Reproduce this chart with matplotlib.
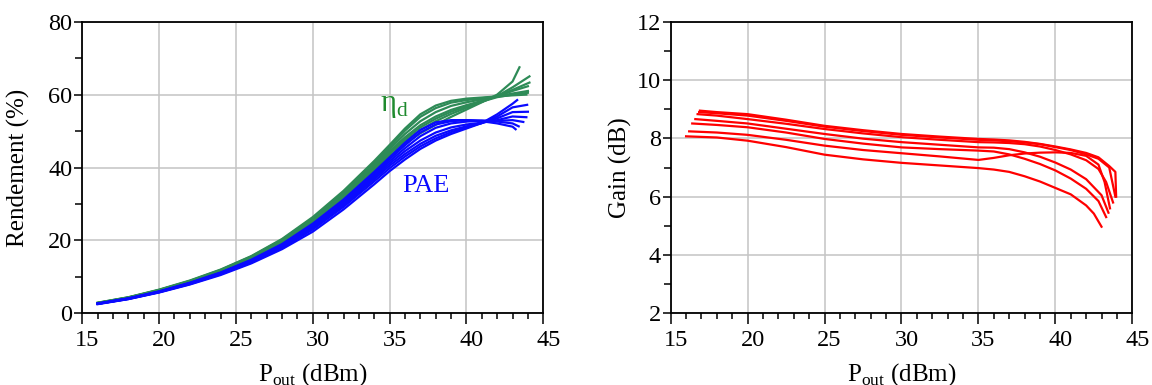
import matplotlib
matplotlib.use("Agg")
import matplotlib.pyplot as plt
import matplotlib.transforms as mtransforms
from matplotlib.ticker import MultipleLocator

plt.rcParams['font.family'] = ['Liberation Serif', 'DejaVu Serif']
plt.rcParams['mathtext.fontset'] = 'custom'
plt.rcParams['mathtext.rm'] = 'Liberation Serif'

# ---- rendement de drain (eta_d), une courbe par condition
eta_pout = [
    [16, 18, 20, 22, 24, 26, 28, 30, 32, 34, 35, 36, 37, 38, 39, 40, 41, 42, 43, 43.9],
    [16, 18, 20, 22, 24, 26, 28, 30, 32, 34, 35, 36, 37, 38, 39, 40, 41, 42, 43, 44.0],
    [16, 18, 20, 22, 24, 26, 28, 30, 32, 34, 35, 36, 37, 38, 39, 40, 41, 42, 43, 44.0],
    [16, 18, 20, 22, 24, 26, 28, 30, 32, 34, 35, 36, 37, 38, 39, 40, 41, 42, 43, 44.1],
    [16, 18, 20, 22, 24, 26, 28, 30, 32, 34, 35, 36, 37, 38, 39, 40, 41, 42, 43, 44.1],
    [16, 18, 20, 22, 24, 26, 28, 30, 32, 34, 35, 36, 37, 38, 39, 40, 41, 42, 43, 43.45],
    [16, 18, 20, 22, 24, 26, 28, 30, 32, 34, 35, 36, 37, 38, 39, 40, 41, 42, 43, 44.0],
]
eta_d = [
    [2.9, 4.4, 6.5, 9.0, 12.0, 15.7, 20.4, 26.4, 33.6, 41.8, 46.2, 50.7, 54.6, 57.0, 58.3, 58.9, 59.2, 59.5, 59.8, 60.0],
    [2.9, 4.4, 6.4, 8.9, 11.9, 15.6, 20.2, 26.1, 33.2, 41.3, 45.7, 50.1, 53.9, 56.3, 57.8, 58.5, 59.0, 59.5, 60.3, 61.0],
    [2.8, 4.3, 6.4, 8.8, 11.8, 15.4, 20.0, 25.9, 32.9, 40.8, 45.1, 49.2, 52.7, 55.2, 56.9, 57.9, 58.7, 59.5, 61.0, 62.3],
    [2.8, 4.3, 6.3, 8.7, 11.6, 15.2, 19.7, 25.5, 32.5, 40.3, 44.5, 48.3, 51.6, 54.0, 55.8, 57.1, 58.3, 59.5, 61.3, 63.3],
    [2.8, 4.2, 6.2, 8.6, 11.5, 15.0, 19.4, 25.1, 32.0, 39.7, 43.8, 47.3, 50.3, 52.7, 54.7, 56.4, 58.0, 59.6, 62.0, 65.0],
    [2.8, 4.2, 6.2, 8.5, 11.4, 14.9, 19.2, 24.9, 31.7, 39.2, 43.2, 46.5, 49.4, 51.7, 53.9, 55.9, 57.9, 60.0, 63.6, 67.5],
    [2.8, 4.3, 6.3, 8.7, 11.6, 15.1, 19.6, 25.3, 32.2, 40.0, 44.0, 47.8, 51.0, 53.4, 55.3, 56.8, 58.1, 59.3, 60.0, 60.5],
]

# ---- PAE
pae_pout = [
    [16, 18, 20, 22, 24, 26, 28, 30, 32, 34, 35, 36, 37, 38, 39, 40, 41, 42, 43, 43.2],
    [16, 18, 20, 22, 24, 26, 28, 30, 32, 34, 35, 36, 37, 38, 39, 40, 41, 42, 43, 43.4],
    [16, 18, 20, 22, 24, 26, 28, 30, 32, 34, 35, 36, 37, 38, 39, 40, 41, 42, 43, 43.7],
    [16, 18, 20, 22, 24, 26, 28, 30, 32, 34, 35, 36, 37, 38, 39, 40, 41, 42, 43, 43.9],
    [16, 18, 20, 22, 24, 26, 28, 30, 32, 34, 35, 36, 37, 38, 39, 40, 41, 42, 43, 44.0],
    [16, 18, 20, 22, 24, 26, 28, 30, 32, 34, 35, 36, 37, 38, 39, 40, 41, 42, 43, 43.95],
    [16, 18, 20, 22, 24, 26, 28, 30, 32, 34, 35, 36, 37, 38, 39, 40, 41, 42, 43, 43.3],
]
pae = [
    [2.7, 4.1, 6.0, 8.4, 11.2, 14.7, 19.0, 24.6, 31.2, 38.8, 42.8, 46.8, 50.3, 52.4, 53.0, 53.0, 52.7, 52.1, 51.2, 50.5],
    [2.7, 4.1, 6.0, 8.3, 11.1, 14.5, 18.8, 24.2, 30.8, 38.3, 42.3, 46.1, 49.6, 51.8, 52.7, 53.0, 52.9, 52.6, 52.1, 51.3],
    [2.6, 4.0, 5.9, 8.2, 11.0, 14.4, 18.6, 23.9, 30.4, 37.8, 41.7, 45.3, 48.6, 50.9, 52.1, 52.6, 52.8, 52.8, 53.0, 52.5],
    [2.6, 4.0, 5.9, 8.2, 10.9, 14.3, 18.4, 23.6, 30.0, 37.3, 41.1, 44.5, 47.4, 49.6, 51.0, 51.8, 52.3, 53.0, 54.0, 53.8],
    [2.6, 4.0, 5.8, 8.1, 10.8, 14.1, 18.2, 23.3, 29.6, 36.8, 40.5, 43.7, 46.5, 48.7, 50.2, 51.3, 52.2, 53.5, 55.2, 55.3],
    [2.6, 3.9, 5.8, 8.0, 10.7, 13.9, 18.0, 23.0, 29.2, 36.2, 39.8, 43.0, 45.8, 48.0, 49.7, 51.0, 52.2, 54.0, 56.5, 57.2],
    [2.5, 3.9, 5.7, 7.9, 10.5, 13.7, 17.6, 22.4, 28.5, 35.4, 39.0, 42.2, 45.1, 47.4, 49.2, 50.7, 52.2, 54.6, 57.5, 58.5],
]

# ---- gain
gain_pout = [
    [16.0, 18, 20, 22.5, 25, 27.5, 30, 32.5, 35, 36, 37, 38, 39, 40, 41, 42, 42.5, 43.0],
    [16.2, 18, 20, 22.5, 25, 27.5, 30, 32.5, 35, 36, 37, 38, 39, 40, 41, 42, 42.8, 43.2, 43.55],
    [16.4, 18, 20, 22.5, 25, 27.5, 30, 32.5, 35, 36, 37, 38, 39, 40, 41, 42, 42.8, 43.3],
    [16.6, 18, 20, 22.5, 25, 27.5, 30, 32.5, 35, 36, 37, 38, 39, 40, 41, 42, 43, 43.45],
    [16.75, 18, 20, 22.5, 25, 27.5, 30, 32.5, 35, 36, 37, 38, 39, 40, 41, 42, 42.8, 43.3, 43.75],
    [16.85, 18, 20, 22.5, 25, 27.5, 30, 32.5, 35, 36, 37, 38, 39, 40, 41, 42, 42.8, 43.5, 43.9],
    [16.9, 18, 20, 22.5, 25, 27.5, 30, 32.5, 35, 36, 37, 38, 39, 40, 41, 42, 42.8, 43.5, 43.9, 43.95],
]
gain = [
    [8.07, 8.03, 7.92, 7.70, 7.44, 7.28, 7.16, 7.07, 6.98, 6.93, 6.85, 6.70, 6.52, 6.30, 6.08, 5.70, 5.42, 4.97],
    [8.24, 8.20, 8.12, 7.95, 7.75, 7.60, 7.49, 7.38, 7.26, 7.33, 7.42, 7.48, 7.51, 7.52, 7.50, 7.40, 7.10, 6.50, 5.60],
    [8.51, 8.46, 8.38, 8.20, 7.98, 7.82, 7.69, 7.63, 7.58, 7.55, 7.45, 7.30, 7.12, 6.90, 6.62, 6.27, 5.85, 5.30],
    [8.66, 8.60, 8.51, 8.33, 8.15, 7.99, 7.87, 7.78, 7.69, 7.68, 7.63, 7.52, 7.37, 7.17, 6.93, 6.60, 6.05, 5.45],
    [8.83, 8.78, 8.66, 8.50, 8.32, 8.17, 8.04, 7.95, 7.87, 7.86, 7.84, 7.80, 7.72, 7.60, 7.45, 7.25, 6.95, 6.50, 5.80],
    [8.90, 8.86, 8.78, 8.60, 8.40, 8.25, 8.12, 8.03, 7.95, 7.93, 7.90, 7.86, 7.80, 7.70, 7.60, 7.45, 7.30, 7.00, 6.00],
    [8.95, 8.90, 8.83, 8.64, 8.43, 8.28, 8.15, 8.06, 7.98, 7.96, 7.93, 7.88, 7.81, 7.72, 7.62, 7.50, 7.35, 7.05, 6.85, 6.00],
]

fig = plt.figure(figsize=(11.52, 3.85), dpi=100)
ax1 = fig.add_axes([0.0714, 0.1862, 0.4002, 0.7574])
ax2 = fig.add_axes([0.5822, 0.1862, 0.4007, 0.7574])


def style(ax):
    ax.grid(True, which='major', color='#c4c4c4', lw=1.1)
    ax.set_axisbelow(True)
    for s in ax.spines.values():
        s.set_linewidth(1.3)
        s.set_color('black')
    ax.xaxis.set_major_locator(MultipleLocator(5))
    ax.xaxis.set_minor_locator(MultipleLocator(1))
    ax.tick_params(axis='x', which='major', direction='out', length=8, width=1.1,
                   labelsize=17.5, pad=4)
    ax.tick_params(axis='x', which='minor', direction='out', length=4.5, width=1.1)
    ax.tick_params(axis='y', which='major', direction='out', length=6, width=1.1,
                   labelsize=17.5, pad=1)
    ax.tick_params(axis='y', which='minor', direction='out', length=5, width=1.1)
    ax.set_xlim(15, 45)
    ax.set_xlabel(r'P$_{\mathrm{out}}$ (dBm)', fontsize=18)
    ax.xaxis.set_label_coords(0.5, -0.165)
    # les étiquettes x sont un peu décalées vers la droite dans l'original
    shift = mtransforms.ScaledTranslation(0.05, 0, fig.dpi_scale_trans)
    for lab in ax.get_xticklabels():
        lab.set_transform(lab.get_transform() + shift)


for xs, ys in zip(eta_pout, eta_d):
    ax1.plot(xs, ys, color='#2e8b57', lw=1.6)
for xs, ys in zip(pae_pout, pae):
    ax1.plot(xs, ys, color='#0a0aff', lw=1.6)
ax1.set_ylim(0, 80)
ax1.yaxis.set_major_locator(MultipleLocator(20))
ax1.yaxis.set_minor_locator(MultipleLocator(10))
style(ax1)
ax1.set_ylabel('Rendement (%)', fontsize=18)
ax1.yaxis.set_label_coords(-0.113, 0.5)
ax1.text(34.35, 55.6, r'η$_{\mathrm{d}}$', color='#1f8a2e', fontsize=22)
ax1.text(35.8, 33.2, 'PAE', color='#0a0aff', fontsize=19)

for xs, ys in zip(gain_pout, gain):
    ax2.plot(xs, ys, color='#ff0000', lw=1.6)
ax2.set_ylim(2, 12)
ax2.yaxis.set_major_locator(MultipleLocator(2))
ax2.yaxis.set_minor_locator(MultipleLocator(1))
style(ax2)
ax2.set_ylabel('Gain (dB)', fontsize=18)
ax2.yaxis.set_label_coords(-0.084, 0.5)

fig.savefig('out.png', dpi=100)
